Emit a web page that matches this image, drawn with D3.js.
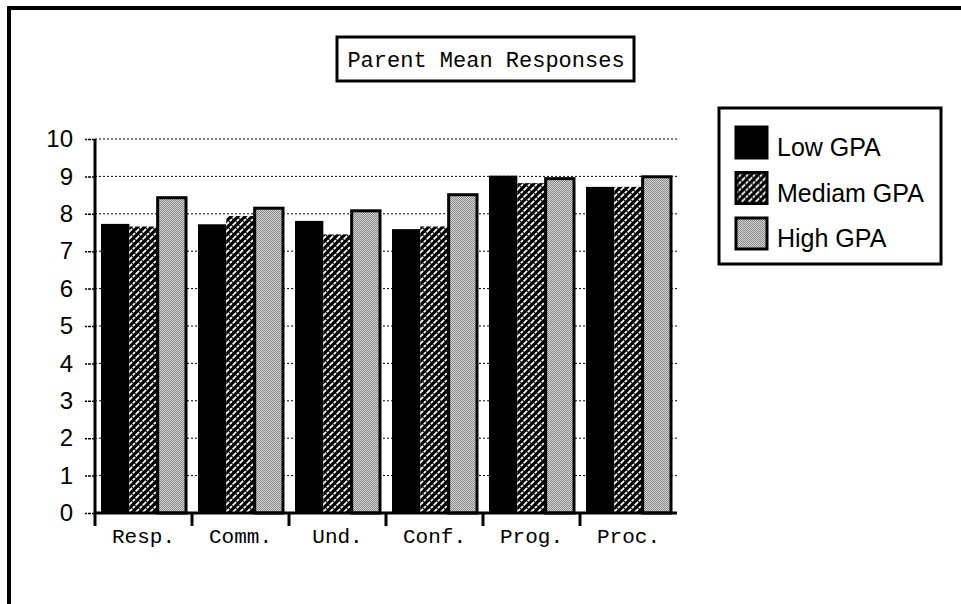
<!DOCTYPE html>
<html>
<head>
<meta charset="utf-8">
<script src="https://cdn.jsdelivr.net/npm/d3@7"></script>
<style>
  body { margin: 0; background: #fff; }
  svg { display: block; }
</style>
</head>
<body>
<svg width="961" height="604"></svg>
<script>
var categories = ["Resp.", "Comm.", "Und.", "Conf.", "Prog.", "Proc."];
var seriesNames = ["Low GPA", "Mediam GPA", "High GPA"];
var lowGPA = [7.73, 7.72, 7.81, 7.59, 9.02, 8.72];
var medGPA = [7.66, 7.94, 7.45, 7.66, 8.82, 8.72];
var highGPA = [8.43, 8.15, 8.08, 8.51, 8.94, 8.99];
var yTickValues = [0, 1, 2, 3, 4, 5, 6, 7, 8, 9, 10];

var seriesValues = [lowGPA, medGPA, highGPA];
var fills = ["#000", "url(#hatch)", "url(#stipple)"];

var svg = d3.select("svg"),
    monoFont = "'Courier New', 'Liberation Mono', monospace",
    sansFont = "Arial, 'Liberation Sans', Helvetica, sans-serif";

// patterns for the bars
var defs = svg.append("defs");
var hatch = defs.append("pattern")
    .attr("id", "hatch")
    .attr("patternUnits", "userSpaceOnUse")
    .attr("width", 7).attr("height", 7);
hatch.append("rect").attr("width", 7).attr("height", 7).attr("fill", "#000");
hatch.append("path")
    .attr("d", "M-1,1 l2,-2 M0,7 l7,-7 M6,8 l2,-2")
    .attr("stroke", "#fff")
    .attr("stroke-width", 1.8)
    .attr("stroke-dasharray", "3,1");

var stipple = defs.append("pattern")
    .attr("id", "stipple")
    .attr("patternUnits", "userSpaceOnUse")
    .attr("width", 2).attr("height", 2);
stipple.append("rect").attr("width", 2).attr("height", 2).attr("fill", "#d4d4d4");
stipple.append("rect").attr("width", 1).attr("height", 1).attr("fill", "#8a8a8a");
stipple.append("rect").attr("x", 1).attr("y", 1).attr("width", 1).attr("height", 1).attr("fill", "#8a8a8a");

// outer frame (top and left only)
svg.append("path")
    .attr("d", "M9,604 V8 H961")
    .attr("fill", "none")
    .attr("stroke", "#000")
    .attr("stroke-width", 4);

var x0 = d3.scaleBand()
    .domain(categories)
    .range([95, 677])
    .paddingInner(0)
    .paddingOuter(0);

var x1 = d3.scaleBand()
    .domain(seriesNames)
    .range([6, 91]);

var y = d3.scaleLinear()
    .domain([0, 10])
    .range([513, 139]);

// dotted grid lines
svg.append("g")
    .selectAll("line")
    .data(yTickValues.slice(1))
    .enter().append("line")
    .attr("x1", 95).attr("x2", 677)
    .attr("y1", function(d) { return y(d); })
    .attr("y2", function(d) { return y(d); })
    .attr("stroke", "#000")
    .attr("stroke-width", 1)
    .attr("stroke-dasharray", "2,2");

// bars
var groups = svg.append("g")
    .selectAll("g")
    .data(categories)
    .enter().append("g")
    .attr("transform", function(d) { return "translate(" + x0(d) + ",0)"; });

groups.selectAll("rect")
    .data(function(d, i) {
        return seriesNames.map(function(s, j) { return {s: s, j: j, v: seriesValues[j][i]}; });
    })
    .enter().append("rect")
    .attr("x", function(d) { return x1(d.s); })
    .attr("width", x1.bandwidth())
    .attr("y", function(d) { return y(d.v); })
    .attr("height", function(d) { return y(0) - y(d.v); })
    .attr("fill", function(d) { return fills[d.j]; })
    .attr("stroke", "#000")
    .attr("stroke-width", function(d) { return d.j == 2 ? 3 : 0; });

// y axis
var yAxis = svg.append("g")
    .attr("transform", "translate(95,0)")
    .call(d3.axisLeft(y).tickValues(yTickValues).tickSize(10).tickPadding(12).tickFormat(d3.format("d")));
yAxis.select(".domain").remove();
yAxis.selectAll(".tick line").attr("stroke-width", 1.5).attr("stroke-dasharray", "3,1");
yAxis.selectAll("text")
    .attr("font-family", sansFont)
    .attr("font-size", "24px")
    .attr("fill", "#000");
svg.append("line")
    .attr("x1", 95).attr("x2", 95)
    .attr("y1", y(10)).attr("y2", y(0) + 1)
    .attr("stroke", "#000").attr("stroke-width", 3);

// x axis
svg.append("line")
    .attr("x1", 94).attr("x2", 677)
    .attr("y1", y(0)).attr("y2", y(0))
    .attr("stroke", "#000").attr("stroke-width", 3);

svg.append("g")
    .selectAll("line")
    .data(categories)
    .enter().append("line")
    .attr("x1", function(d) { return x0(d); })
    .attr("x2", function(d) { return x0(d); })
    .attr("y1", y(0)).attr("y2", y(0) + 13)
    .attr("stroke", "#000").attr("stroke-width", 3);

svg.append("g")
    .selectAll("text")
    .data(categories)
    .enter().append("text")
    .attr("x", function(d) { return x0(d) + x0.bandwidth() / 2; })
    .attr("y", 543)
    .attr("text-anchor", "middle")
    .attr("font-family", monoFont)
    .attr("font-size", "21px")
    .text(function(d) { return d; });

// title box
svg.append("rect")
    .attr("x", 337).attr("y", 37)
    .attr("width", 297).attr("height", 44)
    .attr("fill", "#fff")
    .attr("stroke", "#000").attr("stroke-width", 3);
svg.append("text")
    .attr("x", 486).attr("y", 67)
    .attr("text-anchor", "middle")
    .attr("font-family", monoFont)
    .attr("font-size", "22px")
    .text("Parent Mean Responses");

// legend
var legend = svg.append("g");
legend.append("rect")
    .attr("x", 719).attr("y", 108)
    .attr("width", 222).attr("height", 156)
    .attr("fill", "#fff")
    .attr("stroke", "#000").attr("stroke-width", 3);

var items = legend.selectAll("g.item")
    .data(seriesNames)
    .enter().append("g")
    .attr("class", "item")
    .attr("transform", function(d, i) { return "translate(736," + (127 + i * 45.5) + ")"; });

items.append("rect")
    .attr("width", 31).attr("height", 31)
    .attr("fill", function(d, i) { return fills[i]; })
    .attr("stroke", "#000")
    .attr("stroke-width", 3);

items.append("text")
    .attr("x", 41).attr("y", 29)
    .attr("font-family", sansFont)
    .attr("font-size", "25px")
    .text(function(d) { return d; });
</script>
</body>
</html>
